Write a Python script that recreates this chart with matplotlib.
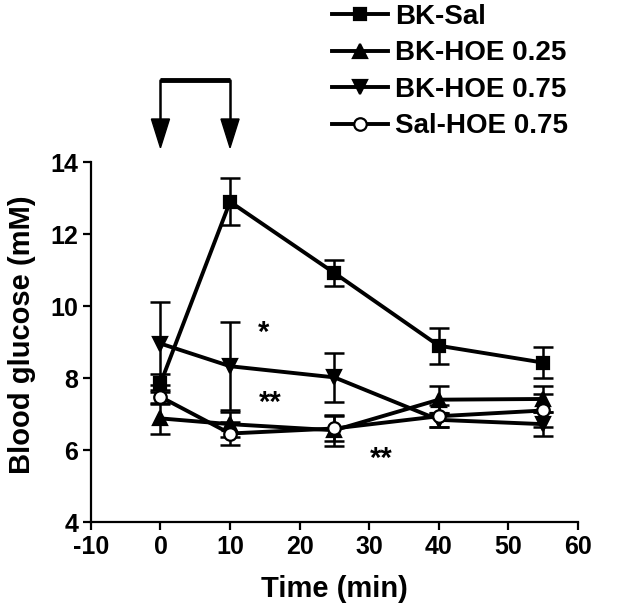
import matplotlib
matplotlib.use("Agg")
import matplotlib.pyplot as plt
import numpy as np

plt.rcParams['font.family'] = ['Liberation Sans', 'DejaVu Sans']
plt.rcParams['font.weight'] = 'bold'
plt.rcParams['axes.unicode_minus'] = False

time = [0, 10, 25, 40, 55]

bk_sal = [7.85, 12.9, 10.92, 8.9, 8.43]
bk_sal_err = [0.25, 0.65, 0.37, 0.5, 0.44]

bk_hoe025 = [6.88, 6.72, 6.55, 7.4, 7.42]
bk_hoe025_err = [0.42, 0.35, 0.43, 0.38, 0.37]

bk_hoe075 = [8.96, 8.33, 8.02, 6.84, 6.72]
bk_hoe075_err = [1.16, 1.22, 0.68, 0.2, 0.33]

sal_hoe075 = [7.48, 6.46, 6.6, 6.94, 7.1]
sal_hoe075_err = [0.2, 0.32, 0.35, 0.3, 0.45]

series = [
    ("BK-Sal", bk_sal, bk_sal_err, "s", "black", 9),
    ("BK-HOE 0.25", bk_hoe025, bk_hoe025_err, "^", "black", 10),
    ("BK-HOE 0.75", bk_hoe075, bk_hoe075_err, "v", "black", 10),
    ("Sal-HOE 0.75", sal_hoe075, sal_hoe075_err, "o", "white", 9),
]

fig = plt.figure(figsize=(6.4, 6.12), dpi=100)
ax = fig.add_axes([0.142, 0.147, 0.761, 0.588])

handles = []
for name, vals, err, mk, fc, ms in series:
    ax.errorbar(time, vals, yerr=err, fmt="none", ecolor="black",
                elinewidth=1.8, capsize=7, capthick=1.8, zorder=2)
    h, = ax.plot(time, vals, color="black", lw=2.8, marker=mk, ms=ms,
                 mfc=fc, mec="black", mew=1.6, label=name, zorder=3)
    handles.append(h)

ax.set_xlim(-10, 60)
ax.set_ylim(4, 14)
ax.set_xticks(np.arange(-10, 61, 10))
ax.set_yticks(np.arange(4, 15, 2))
for s in ["top", "right"]:
    ax.spines[s].set_visible(False)
for s in ["left", "bottom"]:
    ax.spines[s].set_linewidth(1.6)
ax.tick_params(width=1.6, length=6, labelsize=18, pad=3)
for lab in ax.get_xticklabels() + ax.get_yticklabels():
    lab.set_fontweight("bold")

ax.set_xlabel("Time (min)", fontsize=21, fontweight="bold")
ax.set_ylabel("Blood glucose (mM)", fontsize=21, fontweight="bold")
ax.xaxis.set_label_coords(0.5, -0.148)
ax.yaxis.set_label_coords(-0.113, 0.52)

# significance marks
ax.text(14.8, 9.25, "*", fontsize=21, fontweight="bold", ha="center", va="center")
ax.text(15.8, 7.3, "**", fontsize=21, fontweight="bold", ha="center", va="center")
ax.text(31.8, 5.75, "**", fontsize=21, fontweight="bold", ha="center", va="center")

# injection bracket with arrows
ax.plot([0, 0, 10, 10], [15.15, 16.28, 16.28, 15.15], color="black", lw=1.8,
        clip_on=False)
ax.plot([0, 10], [16.28, 16.28], color="black", lw=3.5, clip_on=False,
        solid_capstyle="butt")
for x0 in [0, 10]:
    ax.fill([x0 - 1.3, x0 + 1.3, x0], [15.2, 15.2, 14.4], color="black",
            clip_on=False)

leg = fig.legend(handles=handles, loc="upper left",
                 bbox_to_anchor=(0.502, 1.012), frameon=False,
                 fontsize=20, handlelength=2.0, handletextpad=0.25,
                 labelspacing=0.38, borderaxespad=0)
for t in leg.get_texts():
    t.set_fontweight("bold")

fig.savefig("out.png", dpi=100)
